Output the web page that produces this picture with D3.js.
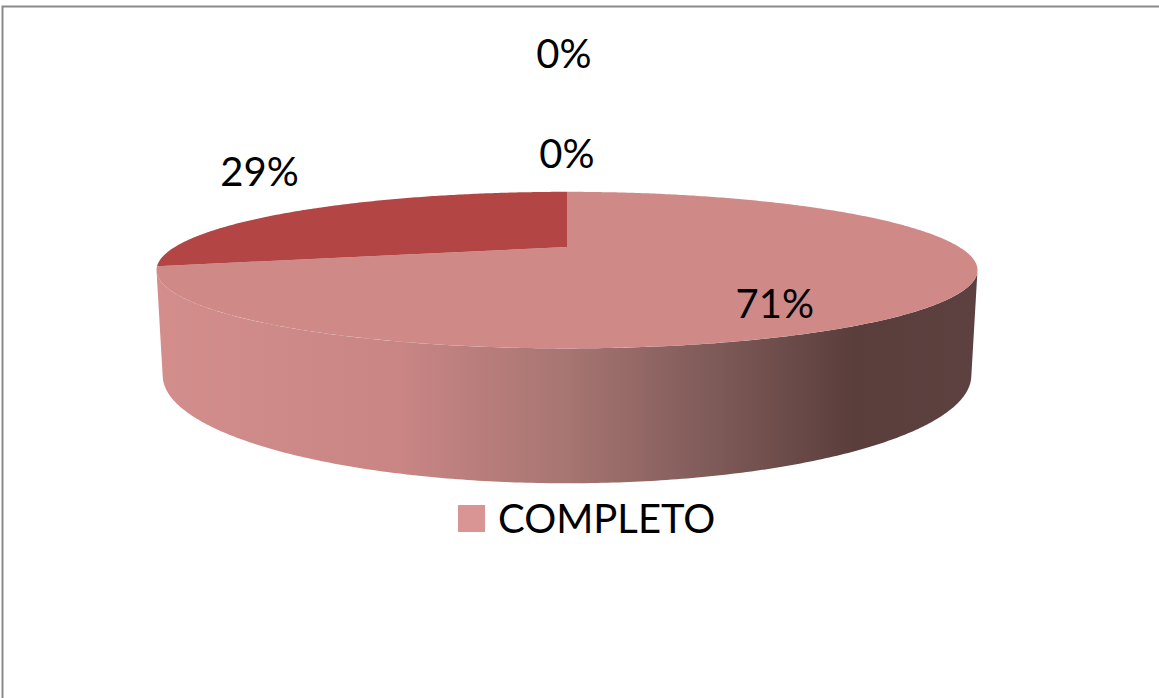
<!DOCTYPE html>
<html>
<head>
<meta charset="utf-8">
<script src="https://cdn.jsdelivr.net/npm/d3@7"></script>
<style>
  body { margin: 0; background: #fff; }
  text { font-family: Lato, "Open Sans", sans-serif; fill: #000; }
</style>
</head>
<body>
<div id="chart"></div>
<script>
// chart data
const categories = ["COMPLETO", "INCOMPLETO", "PARCIAL", "SIN DATO"];
const values = [71, 29, 0, 0];
const sliceColors = ["#cf8a88", "#b34545", "#9bbb59", "#8064a2"];
const legendShown = ["COMPLETO"];

// layout constants
const WIDTH = 1159;
const HEIGHT = 698;
const CX = 567, CY = 247;        // projected pie centre
const F = 1306;                  // focal length (px)
const DIST = 3.33;               // camera distance (in radii)
const PHI = 10.5 * Math.PI / 180; // camera elevation
const S = Math.sin(PHI), C = Math.cos(PHI);
const THICK = 0.255;             // pie thickness (in radii)

// simple perspective projection of a point on the pie
function project(a, r, y) {
    const X = r * Math.sin(a), Z = -r * Math.cos(a), Y = y || 0;
    const depth = DIST - Y * S - Z * C;
    const v = Y * C - Z * S;
    return [CX + F * X / depth, CY - F * v / depth];
}

function arcPoints(a0, a1, r, y) {
    const n = Math.max(2, Math.ceil(Math.abs(a1 - a0) / 0.01));
    const pts = [];
    for (let i = 0; i <= n; i++) pts.push(project(a0 + (a1 - a0) * i / n, r, y));
    return pts;
}

const svg = d3.select("#chart").append("svg")
    .attr("width", WIDTH).attr("height", HEIGHT);

// chart border
svg.append("rect")
    .attr("x", 2.5).attr("y", 6.5)
    .attr("width", 1200).attr("height", 800)
    .attr("fill", "#fff")
    .attr("stroke", "#8a8a8a").attr("stroke-width", 2);

const color = d3.scaleOrdinal().domain(categories).range(sliceColors);
const pie = d3.pie().sort(null).value(d => d.value);
const arcs = pie(categories.map((c, i) => ({name: c, value: values[i]})));
const total = d3.sum(values);
const pct = d3.format(".0%");
const line = d3.line();

// visible part of the side wall
const aS = Math.acos(-1 / (DIST * C));
const aE = 2 * Math.PI - aS;
const left = project(aE, 1)[0], right = project(aS, 1)[0];

const defs = svg.append("defs");
const grad = defs.append("linearGradient")
    .attr("id", "side").attr("gradientUnits", "userSpaceOnUse")
    .attr("x1", left).attr("x2", right).attr("y1", 0).attr("y2", 0);
[[0, "#d38e8c"], [0.3, "#c88584"], [0.5, "#a77572"], [0.68, "#7e5a58"],
 [0.85, "#5a3e3c"], [1, "#5c4140"]].forEach(s => {
    grad.append("stop").attr("offset", s[0]).attr("stop-color", s[1]);
});

// side walls
arcs.forEach(d => {
    const lo = Math.max(d.startAngle, aS), hi = Math.min(d.endAngle, aE);
    if (hi <= lo) return;
    const pts = arcPoints(lo, hi, 1, 0).concat(arcPoints(hi, lo, 1, -THICK));
    svg.append("path")
        .attr("d", line(pts) + "Z")
        .attr("fill", d.index === 0 ? "url(#side)" : d3.color(color(d.data.name)).darker(1));
});

// top faces
arcs.forEach(d => {
    if (d.endAngle - d.startAngle <= 0) return;
    const pts = [project(0, 0)].concat(arcPoints(d.startAngle, d.endAngle, 1, 0));
    svg.append("path")
        .attr("d", line(pts) + "Z")
        .attr("fill", color(d.data.name));
});

// data labels
let lastTop = null;
arcs.forEach(d => {
    const mid = (d.startAngle + d.endAngle) / 2;
    const share = d.data.value / total;
    let x, y;
    if (share >= 0.5) {
        [x, y] = project(mid, 0.6, -THICK * 0.25);
    } else {
        const p = project(mid, 1, 0);
        const ux = Math.sign(p[0] - CX) * Math.min(1, Math.abs(p[0] - CX) / 250);
        x = p[0] + ux * 45;
        y = p[1] - 38;
        if (lastTop && Math.abs(lastTop[0] - x) < 80 && Math.abs(lastTop[1] - y) < 45) {
            y = lastTop[1] - 100;
            x = lastTop[0] - 3;
        }
        lastTop = [x, y];
    }
    svg.append("text")
        .attr("x", x).attr("y", y).attr("dy", "0.36em")
        .attr("text-anchor", "middle")
        .style("font-size", "40px")
        .text(pct(share));
});

// legend
const legend = svg.append("g").attr("transform", "translate(458,505)");
legend.selectAll("rect").data(legendShown).enter().append("rect")
    .attr("x", 0).attr("y", 0).attr("width", 27).attr("height", 27)
    .attr("fill", "#d99594");
legend.selectAll("text").data(legendShown).enter().append("text")
    .attr("x", 40).attr("y", 14).attr("dy", "0.36em")
    .style("font-size", "40px")
    .text(d => d);
</script>
</body>
</html>
